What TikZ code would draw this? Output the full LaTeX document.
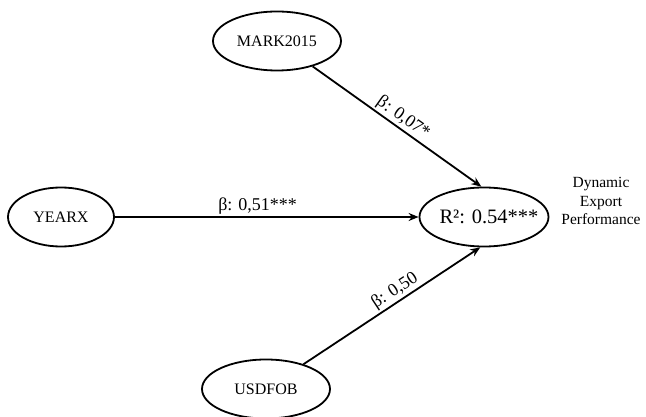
\documentclass[tikz,border=0pt]{standalone}
\usepackage{fontspec}
\setmainfont{Liberation Serif}
\usetikzlibrary{shapes.geometric,arrows.meta}
\begin{document}
\begin{tikzpicture}[x=1pt,y=-1pt,
  construct/.style={draw,ellipse,line width=1.8pt,minimum width=#1,minimum height=59pt,inner sep=0pt,font=\fontsize{16}{18}\selectfont},
  path/.style={line width=1.8pt,-{Stealth[length=10pt,width=8pt]}},
  coef/.style={font=\fontsize{18}{20}\selectfont,inner sep=1.5pt}]
\useasboundingbox (0,0) rectangle (646,417);
% exogenous constructs
\node[construct=128pt] (mark) at (277,41) {MARK2015};
\node[construct=106pt] (year) at (61,217) {YEARX};
\node[construct=128pt] (usd) at (266,389) {USDFOB};
% endogenous construct with its explained variance
\node[construct=129pt] (dep) at (484,217) {};
\node[font=\fontsize{20.5}{22}\selectfont,inner sep=0pt] (r2) at (489,217) {R²: 0.54***};
\node[align=center,font=\fontsize{15.5}{18.5}\selectfont] (deplabel) at (601,201) {Dynamic\\Export\\Performance};
% structural paths
\draw[path] (mark) -- node[coef,sloped,above,pos=0.5] {β: 0,07*} (dep.95);
\draw[path] (year) -- node[coef,above,pos=0.47] {β: 0,51***} (dep);
\draw[path] (usd) -- node[coef,sloped,above,pos=0.55] {β: 0,50} (dep.263);
\end{tikzpicture}
\end{document}
